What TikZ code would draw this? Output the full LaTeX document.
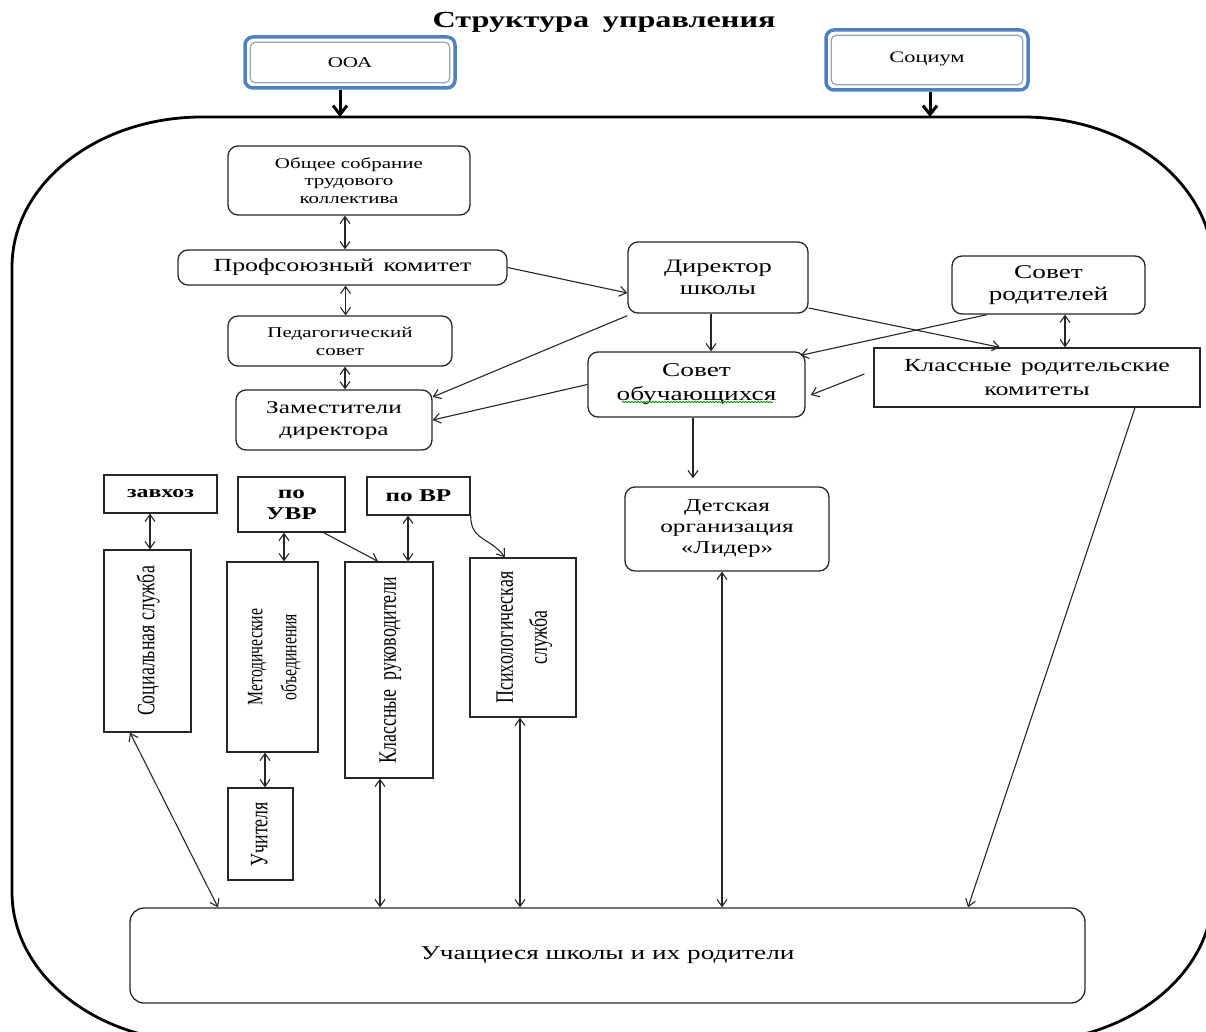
\documentclass[tikz,border=0pt]{standalone}
\usepackage{fontspec}
\setmainfont{Liberation Serif}[FakeStretch=1.4]
\newfontfamily\vertfont{Liberation Serif}[FakeStretch=0.714]
\usetikzlibrary{arrows.meta,decorations.pathmorphing}
\definecolor{oblue}{RGB}{79,129,189}
\newcommand{\fsz}[2]{\fontsize{#1}{#2}\selectfont}
\newcommand{\vtext}[2]{\rotatebox{90}{\vertfont\fsz{#1}{34}\begin{tabular}{@{}c@{}}#2\end{tabular}}}

\begin{document}
\begin{tikzpicture}[x=1pt,y=-1pt,>={Straight Barb[length=7pt,width=10pt]},
    rbox/.style={draw=black!85,line width=1.3pt,rounded corners=10pt,align=center,inner sep=1pt},
    sbox/.style={draw=black!85,line width=1.3pt,align=center,inner sep=1pt},
    obox/.style={draw=oblue,line width=3.5pt,rounded corners=8pt,fill=white},
    lnk/.style={line width=1.1pt,black!85},
    thickarr/.style={line width=3pt,-{Straight Barb[length=9pt,width=14pt]}}]
\useasboundingbox (0,0) rectangle (1206,1032);

\draw[line width=2.8pt] (12,267) .. controls (12,184) and (97,117) .. (202,117) -- (1023,117)
    .. controls (1128,117) and (1213,184) .. (1213,267) -- (1213,892)
    .. controls (1213,975) and (1128,1042) .. (1023,1042) -- (202,1042)
    .. controls (97,1042) and (12,975) .. (12,892) -- cycle;
\coordinate (ftop) at (0,117);

\node[font={\fsz{23}{26}\bfseries}] (title) at (604,22) {Структура\hspace{0.6em}управления};
\node[obox,minimum width=210,minimum height=51,font={\fsz{15}{18}}] (ooa) at (350,62.5) {ООА};
\node[obox,minimum width=202,minimum height=60,font={\fsz{16}{19}}] (soc) at (927,60) {\raisebox{5pt}{Социум}};
\foreach \b in {ooa,soc}
    \draw[oblue!50!gray!70,line width=1.2pt,rounded corners=5pt] ([xshift=7pt,yshift=-7pt]\b.north west) rectangle ([xshift=-7pt,yshift=7pt]\b.south east);

\node[rbox,minimum width=242,minimum height=69,font={\fsz{15}{17.5}}] (sobr) at (349,180.5) {Общее собрание\\трудового\\коллектива};
\node[rbox,minimum width=329,minimum height=35,font={\fsz{18.5}{21}}] (prof) at (342.5,267.5) {Профсоюзный\hspace{0.5em}комитет};
\node[rbox,minimum width=224,minimum height=50,font={\fsz{15}{18}}] (ped) at (340,341) {Педагогический\\совет};
\node[rbox,minimum width=196,minimum height=60,font={\fsz{18}{22}}] (zam) at (334,420) {Заместители\\директора};
\node[rbox,minimum width=180,minimum height=71,font={\fsz{19}{22}}] (dir) at (718,277.5) {Директор\\школы};
\node[rbox,minimum width=193,minimum height=58,font={\fsz{19.5}{22}}] (sovrod) at (1048.5,285) {Совет\\родителей};
\node[rbox,minimum width=217,minimum height=65,font={\fsz{19.5}{24}}] (sovob) at (696.5,384.5) {Совет\\обучающихся};
\node[sbox,minimum width=326,minimum height=59,font={\fsz{18.5}{24}}] (krk) at (1037,377.5) {Классные\hspace{0.5em}родительские\\комитеты};
\node[rbox,minimum width=204,minimum height=84,font={\fsz{18}{21}}] (det) at (727,529) {Детская\\организация\\«Лидер»};
\node[sbox,minimum width=113,minimum height=38,font={\fsz{17}{20}\bfseries}] (zavhoz) at (160.5,494) {завхоз};
\node[sbox,minimum width=107,minimum height=55,font={\fsz{18}{21}\bfseries}] (uvr) at (291.5,504.5) {по\\УВР};
\node[sbox,minimum width=103,minimum height=38,font={\fsz{18}{21}\bfseries}] (vr) at (418.5,496) {по ВР};
\node[sbox,minimum width=87,minimum height=182] (socs) at (147.5,641) {\vtext{25}{Социальная служба}};
\node[sbox,minimum width=91,minimum height=190] (metod) at (272.5,657) {\vtext{22}{Методические\\объединения}};
\node[sbox,minimum width=88,minimum height=216] (klruk) at (389,670) {\vtext{25}{Классные\hspace{0.35em}руководители}};
\node[sbox,minimum width=106,minimum height=159] (psih) at (523,637.5) {\vtext{25}{Психологическая\\служба}};
\node[sbox,minimum width=65,minimum height=92] (uchit) at (260.5,834) {\vtext{25}{Учителя}};
\node[rbox,minimum width=955,minimum height=95,rounded corners=14pt,font={\fsz{19.5}{22}}] (uch) at (607.5,955.5) {Учащиеся школы и их родители};

\draw[green!55!black,line width=0.8pt,decorate,decoration={snake,amplitude=0.7pt,segment length=3pt}]
    ([xshift=-74.5pt,yshift=-17.5pt]sovob.center) -- ([xshift=76.5pt,yshift=-17.5pt]sovob.center);

\path[thickarr]
    ([xshift=-10pt]ooa.south) edge ([xshift=-10pt]ooa.south |- ftop)
    ([xshift=3pt]soc.south) edge ([xshift=3pt]soc.south |- ftop);

\path[<->,lnk]
    ([xshift=-4pt]sobr.south) edge ([xshift=-4pt]sobr.south |- prof.north)
    ([xshift=3pt]prof.south) edge ([xshift=3pt]prof.south |- ped.north)
    ([xshift=5pt]ped.south) edge ([xshift=5pt]ped.south |- zam.north)
    ([xshift=16.5pt]sovrod.south) edge ([xshift=16.5pt]sovrod.south |- krk.north)
    ([xshift=-10.5pt]zavhoz.south) edge ([xshift=-10.5pt]zavhoz.south |- socs.north)
    ([xshift=-7.5pt]uvr.south) edge ([xshift=-7.5pt]uvr.south |- metod.north)
    ([xshift=-10.5pt]vr.south) edge ([xshift=-10.5pt]vr.south |- klruk.north)
    ([xshift=-7.5pt]metod.south) edge ([xshift=-7.5pt]metod.south |- uchit.north)
    ([xshift=-17.5pt]socs.south) edge ([xshift=-389.5pt]uch.north)
    ([xshift=-9pt]klruk.south) edge ([xshift=-9pt]klruk.south |- uch.north)
    ([xshift=-3pt]psih.south) edge ([xshift=-3pt]psih.south |- uch.north)
    ([xshift=-5pt]det.south) edge ([xshift=-5pt]det.south |- uch.north);

\path[->,lnk]
    (prof.east) edge ([yshift=-15.5pt]dir.west)
    ([yshift=-2pt]dir.south west) edge ([yshift=23pt]zam.east)
    (sovob.west) edge (zam.east)
    ([xshift=-7pt]dir.south) edge ([xshift=-7pt]dir.south |- sovob.north)
    ([yshift=-30.5pt]dir.east) edge ([xshift=-37pt]krk.north)
    ([xshift=-61.5pt]sovrod.south) edge ([xshift=-5pt,yshift=-4pt]sovob.north east)
    ([xshift=-9pt,yshift=3.5pt]krk.west) edge ([xshift=5pt,yshift=-10.5pt]sovob.east)
    ([xshift=-3.5pt]sovob.south) edge ([xshift=-3.5pt,yshift=8pt]sovob.south |- det.north)
    ([xshift=-22pt]uvr.south east) edge ([xshift=-11pt]klruk.north)
    ([xshift=98pt]krk.south) edge ([xshift=360.5pt]uch.north);
\draw[->,lnk] (vr.south east) .. controls +(0,25) and +(-15,-20) .. ([xshift=-18pt]psih.north);
\end{tikzpicture}
\end{document}
